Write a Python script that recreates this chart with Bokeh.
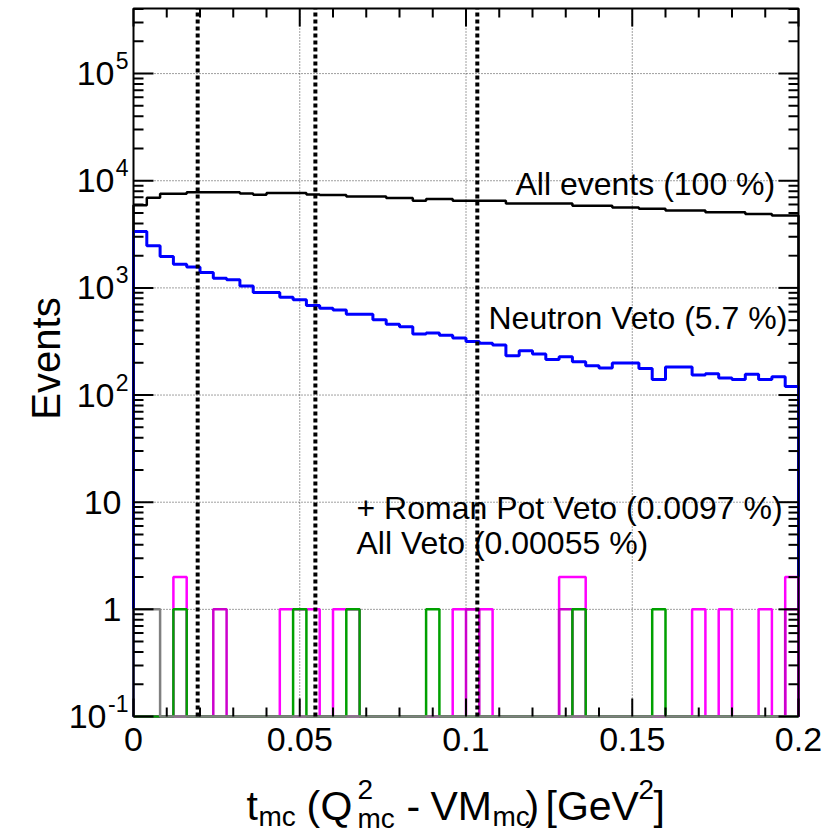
import math
import numpy as np
from bokeh.plotting import figure
from bokeh.models import Label, Range1d
from bokeh.embed import file_html
from bokeh.resources import INLINE

# ---------------- data ----------------
X_MIN, X_MAX, N_BINS = 0.0, 0.2, 50
Y_MIN, Y_MAX = 0.1, 4.05e5

all_events = [5900, 6950, 7550, 7550, 7800, 7800, 7800, 7800, 7620, 7400,
              7680, 7680, 7680, 7450, 7350, 7350, 7130, 7130, 7130, 6900,
              6900, 6500, 6740, 6740, 6500, 6500, 6500, 6500, 6120, 6120,
              6120, 6120, 6120, 5840, 5840, 5840, 5630, 5630, 5470, 5470,
              5270, 5270, 5270, 5090, 5090, 5090, 4890, 4890, 4740, 4740]

neutron_veto = [3360, 2480, 1960, 1665, 1570, 1390, 1230, 1190, 1040, 904,
                904, 818, 773, 684, 646, 623, 568, 568, 505, 458,
                435, 371, 379, 361, 340, 316, 304, 293, 233, 259,
                242, 215, 228, 205, 188, 179, 199, 199, 177, 140,
                183, 183, 154, 158, 144, 140, 156, 140, 148, 120]

# sparse histograms: {bin index: entries}
rp_veto_a = {3: 2, 11: 1, 12: 1, 13: 1, 15: 1, 16: 1, 24: 1, 25: 1, 26: 1,
             32: 2, 33: 2, 42: 1, 44: 1, 47: 1, 49: 2}
rp_veto_b = {6: 1, 25: 1, 32: 1, 49: 1}
rp_veto_c = {3: 1, 12: 1, 16: 1, 22: 1, 33: 1, 39: 1}
all_veto = {0: 1, 1: 1}

x_major = [0.0, 0.05, 0.1, 0.15, 0.2]
x_major_labels = ["0", "0.05", "0.1", "0.15", "0.2"]
x_minor = [0.01, 0.02, 0.03, 0.04, 0.06, 0.07, 0.08, 0.09, 0.11, 0.12, 0.13,
           0.14, 0.16, 0.17, 0.18, 0.19]
y_exponents = [-1, 0, 1, 2, 3, 4, 5]

t_minima = [0.0193, 0.0547, 0.1034]

legend_texts = ["All events (100 %)", "Neutron Veto (5.7 %)",
                "+ Roman Pot Veto (0.0097 %)", "All Veto (0.00055 %)"]

FONT = "Liberation Sans"
edges = np.linspace(X_MIN, X_MAX, N_BINS + 1)

# ---------------- geometry (page pixels) ----------------
W, H = 828, 836
FL, FR, FT, FB = 133, 798, 8, 716   # edges of the histogram frame
LT, LB = math.log10(Y_MAX), math.log10(Y_MIN)


def px2x(px):
    return X_MIN + (px - FL) / (FR - FL) * (X_MAX - X_MIN)


def py2y(py):
    return 10 ** (LT - (py - FT) / (FB - FT) * (LT - LB))


def dense(d):
    return [d.get(i, 0) for i in range(N_BINS)]


def outline(vals, floor=Y_MIN):
    xs, ys = [edges[0]], [floor]
    for i, v in enumerate(vals):
        vv = v if v > 0 else floor
        xs += [edges[i], edges[i + 1]]
        ys += [vv, vv]
    xs.append(edges[-1])
    ys.append(floor)
    return xs, ys


# The Bokeh frame covers the whole canvas so that all texts can be drawn;
# the histogram frame is drawn inside it.
p = figure(width=W, height=H, x_range=Range1d(px2x(0), px2x(W)),
           y_range=Range1d(py2y(H), py2y(0)), y_axis_type="log",
           output_backend="svg", toolbar_location=None,
           min_border_left=0, min_border_right=0,
           min_border_top=0, min_border_bottom=0)
p.title.visible = False
p.xaxis.visible = False
p.yaxis.visible = False
p.xgrid.visible = False
p.ygrid.visible = False
p.outline_line_color = None
p.background_fill_color = "white"
p.border_fill_color = "white"

y_major = [10.0 ** k for k in y_exponents]
y_minor = [m * 10.0 ** k for k in y_exponents for m in range(2, 10)
           if m * 10.0 ** k < Y_MAX]

# ---------------- grid ----------------
gx = [v for v in x_major if X_MIN < v < X_MAX]
gy = [v for v in y_major if Y_MIN < v < Y_MAX]
p.segment(gx, [Y_MIN] * len(gx), gx, [Y_MAX] * len(gx), line_color="black",
          line_dash="1 2", line_width=1, line_alpha=0.75)
p.segment([X_MIN] * len(gy), gy, [X_MAX] * len(gy), gy, line_color="black",
          line_dash="1 2", line_width=1, line_alpha=0.75)

# ---------------- histograms ----------------
xs, ys = outline(all_events)
p.line(xs, ys, line_color="black", line_width=2.5)
xs, ys = outline(neutron_veto)
p.line(xs, ys, line_color="#0000ff", line_width=3)
xs, ys = outline(dense(rp_veto_a))
p.line(xs, ys, line_color="#ff00ff", line_width=2.5)
xs, ys = outline(dense(rp_veto_b))
p.line(xs, ys, line_color="#cc00cc", line_width=2.5)
xs, ys = outline(dense(rp_veto_c))
p.line(xs, ys, line_color="#00a000", line_width=2.5)
xs, ys = outline(dense(all_veto))
p.line(xs, ys, line_color="#808080", line_width=2.5)

# dotted vertical markers
p.segment(t_minima, [Y_MIN] * len(t_minima), t_minima,
          [Y_MAX] * len(t_minima), line_color="black", line_width=4,
          line_dash="4 3")

# ---------------- frame (left, top, right) ----------------
p.line([X_MIN, X_MIN, X_MAX, X_MAX], [Y_MIN, Y_MAX, Y_MAX, Y_MIN],
       line_color="black", line_width=2)

# ---------------- ticks (inside the frame, all four sides) ----------------
tx0, tx1, ty0, ty1 = [], [], [], []
for ticks, length in ((x_major, 18), (x_minor, 9)):
    for v in ticks:
        tx0 += [v, v]
        tx1 += [v, v]
        ty0 += [Y_MIN, Y_MAX]
        ty1 += [py2y(FB - length), py2y(FT + length)]
for ticks, length in ((y_major, 20), (y_minor, 10)):
    for v in ticks:
        tx0 += [X_MIN, X_MAX]
        tx1 += [px2x(FL + length), px2x(FR - length)]
        ty0 += [v, v]
        ty1 += [v, v]
p.segment(tx0, ty0, tx1, ty1, line_color="black", line_width=2)


def text(s, px, py, size, align="left", angle=0.0):
    """Text whose vertical middle sits at page row py."""
    p.add_layout(Label(x=px2x(px), y=py2y(py), text=s, text_font=FONT,
                       text_font_size=f"{size}px", text_align=align,
                       text_baseline="middle", angle=angle,
                       text_color="black"))


# ---------------- tick labels ----------------
for v, s in zip(x_major, x_major_labels):
    p.add_layout(Label(x=v, y=Y_MIN, y_offset=-11, text=s, text_font=FONT,
                       text_font_size="34px", text_align="center",
                       text_baseline="top", text_color="black"))

for k in y_exponents:
    yv = 10.0 ** k
    if k in (0, 1):
        p.add_layout(Label(x=X_MIN, y=yv, x_offset=-12, text=str(10 ** k),
                           text_font=FONT, text_font_size="34px",
                           text_align="right", text_baseline="middle",
                           text_color="black"))
    else:
        sup = str(k)
        sup_w = 13 * len(sup) - (5 if k < 0 else 0)
        p.add_layout(Label(x=X_MIN, y=yv, x_offset=-5, y_offset=13, text=sup,
                           text_font=FONT, text_font_size="23px",
                           text_align="right", text_baseline="middle",
                           text_color="black"))
        p.add_layout(Label(x=X_MIN, y=yv, x_offset=-6 - sup_w, text="10",
                           text_font=FONT, text_font_size="34px",
                           text_align="right", text_baseline="middle",
                           text_color="black"))

# ---------------- axis titles ----------------
text("Events", 45, 358, 40, align="center", angle=math.pi / 2)

x_title = [("t", 246, 805, 41), ("mc", 258, 816, 28), ("(", 306, 805, 41),
           ("Q", 320, 805, 41), ("2", 357, 789, 28), ("mc", 357, 818, 28),
           ("-", 406, 805, 41), ("VM", 430, 805, 41), ("mc", 492, 816, 28),
           (")", 525, 805, 41), ("[GeV", 545, 805, 41), ("2", 638, 789, 28),
           ("]", 653, 805, 41)]
for s, px, py, size in x_title:
    text(s, px, py, size)

# ---------------- legend texts ----------------
legend_pos = [(515, 183), (488, 317), (356, 507), (356, 542)]
for s, (px, py) in zip(legend_texts, legend_pos):
    text(s, px, py, 32)

open("out.html", "w").write(file_html(p, INLINE))
